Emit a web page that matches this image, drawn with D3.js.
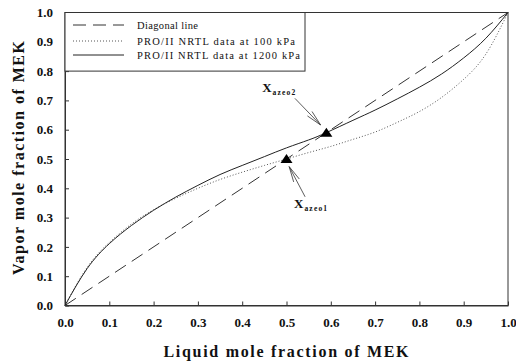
<!DOCTYPE html>
<html>
<head>
<meta charset="utf-8">
<script src="https://cdn.jsdelivr.net/npm/d3@7"></script>
<style>
  html, body { margin: 0; padding: 0; background: #fff; }
  svg { display: block; font-family: "Liberation Serif", "Times New Roman", serif; }
</style>
</head>
<body>
<svg id="chart" width="516" height="363"></svg>
<script>
// ---- data ----
const xLiquid   = [0, 0.05, 0.1, 0.15, 0.2, 0.25, 0.3, 0.35, 0.4, 0.45, 0.5, 0.55, 0.59, 0.65, 0.7, 0.75, 0.8, 0.85, 0.9, 0.95, 1.0];
const yAt1200   = [0, 0.126, 0.211, 0.273, 0.325, 0.37, 0.41, 0.447, 0.478, 0.508, 0.538, 0.565, 0.59, 0.632, 0.667, 0.705, 0.745, 0.79, 0.845, 0.912, 1.0];
const xLiquid100 = [0, 0.05, 0.1, 0.15, 0.2, 0.25, 0.3, 0.35, 0.4, 0.45, 0.5, 0.55, 0.6, 0.65, 0.7, 0.75, 0.8, 0.85, 0.9, 0.95, 1.0];
const yAt100    = [0, 0.13, 0.215, 0.278, 0.327, 0.366, 0.4, 0.43, 0.455, 0.478, 0.5, 0.522, 0.543, 0.567, 0.592, 0.625, 0.662, 0.71, 0.772, 0.858, 1.0];
const diagonal  = [0, 1];
const azeotropes = [{ name: "azeo1", x: 0.5, y: 0.5 }, { name: "azeo2", x: 0.59, y: 0.59 }];
const tickValues = [0, 0.1, 0.2, 0.3, 0.4, 0.5, 0.6, 0.7, 0.8, 0.9, 1.0];
const legendLabels = ["Diagonal line", "PRO/II NRTL data at 100 kPa", "PRO/II NRTL data at 1200 kPa"];

// annotation anchors in data units: label position, arrow start, arrow tip
const annotations = [
  { main: "X", sub: "azeo2", lx: 0.445, ly: 0.729, x0: 0.519, y0: 0.707, x1: 0.577, y1: 0.616 },
  { main: "X", sub: "azeo1", lx: 0.517, ly: 0.333, x0: 0.542, y0: 0.371, x1: 0.506, y1: 0.474 }
];

// ---- layout ----
const svg = d3.select("#chart");
const plotLeft = 65, plotRight = 508, plotTop = 12.5, plotBottom = 305.5;
const x = d3.scaleLinear().domain([0, 1]).range([plotLeft, plotRight]);
const y = d3.scaleLinear().domain([0, 1]).range([plotBottom, plotTop]);
const serif = '"Liberation Serif", "Times New Roman", serif';

// frame
svg.append("rect")
  .attr("x", plotLeft).attr("y", plotTop)
  .attr("width", plotRight - plotLeft).attr("height", plotBottom - plotTop)
  .attr("fill", "none").attr("stroke", "#333").attr("stroke-width", 1);

// axes with inside ticks
const xAxis = svg.append("g").attr("transform", `translate(0,${plotBottom})`)
  .call(d3.axisBottom(x).tickValues(tickValues).tickSizeInner(-4).tickSizeOuter(0).tickFormat(d3.format(".1f")));
const yAxis = svg.append("g").attr("transform", `translate(${plotLeft},0)`)
  .call(d3.axisLeft(y).tickValues(tickValues).tickSizeInner(-4).tickSizeOuter(0).tickFormat(d3.format(".1f")));

[xAxis, yAxis].forEach(a => {
  a.select(".domain").attr("stroke", "#333");
  a.selectAll(".tick line").attr("stroke", "#333");
  a.selectAll(".tick text")
    .attr("font-family", serif).attr("font-size", 13).attr("font-weight", "bold")
    .attr("fill", "#111");
});
xAxis.selectAll(".tick text").attr("y", 12).attr("dy", "0.71em");
yAxis.selectAll(".tick text").attr("x", -12);

// curves
const line = d3.line().x(d => x(d[0])).y(d => y(d[1]));
const smooth = d3.line().x(d => x(d[0])).y(d => y(d[1])).curve(d3.curveNatural);

svg.append("path")
  .datum(diagonal.map(v => [v, v]))
  .attr("d", line)
  .attr("fill", "none").attr("stroke", "#333").attr("stroke-width", 1)
  .attr("stroke-dasharray", "13,7");

svg.append("path")
  .datum(xLiquid100.map((v, i) => [v, yAt100[i]]))
  .attr("d", smooth)
  .attr("fill", "none").attr("stroke", "#555").attr("stroke-width", 1)
  .attr("stroke-dasharray", "1,2");

svg.append("path")
  .datum(xLiquid.map((v, i) => [v, yAt1200[i]]))
  .attr("d", smooth)
  .attr("fill", "none").attr("stroke", "#222").attr("stroke-width", 1);

// azeotrope markers
svg.selectAll(".azeo")
  .data(azeotropes).enter().append("path")
  .attr("class", "azeo")
  .attr("d", d => {
    const cx = x(d.x), cy = y(d.y);
    return `M${cx - 6},${cy + 4}L${cx + 6},${cy + 4}L${cx},${cy - 5}Z`;
  })
  .attr("fill", "#000");

// annotation arrows and labels
annotations.forEach(a => {
  const sx = x(a.x0), sy = y(a.y0), tx = x(a.x1), ty = y(a.y1);
  const ang = Math.atan2(sy - ty, sx - tx);
  const g = svg.append("g").attr("stroke", "#333").attr("stroke-width", 0.8).attr("fill", "none");
  g.append("line").attr("x1", sx).attr("y1", sy).attr("x2", tx).attr("y2", ty);
  [-0.2, 0.2].forEach(da => {
    g.append("line")
      .attr("x1", tx).attr("y1", ty)
      .attr("x2", tx + 16 * Math.cos(ang + da))
      .attr("y2", ty + 16 * Math.sin(ang + da));
  });
  const t = svg.append("text")
    .attr("x", x(a.lx)).attr("y", y(a.ly))
    .attr("font-family", serif).attr("font-weight", "bold").attr("fill", "#111");
  t.append("tspan").attr("font-size", 13).text(a.main);
  t.append("tspan").attr("font-size", 7.5).attr("dy", 3).attr("dx", 1).attr("letter-spacing", 1.2).text(a.sub);
});

// legend
const legend = svg.append("g");
legend.append("rect")
  .attr("x", plotLeft).attr("y", plotTop)
  .attr("width", 305 - plotLeft).attr("height", y(0.8) - plotTop)
  .attr("fill", "#fff").attr("stroke", "#333").attr("stroke-width", 1);

const legendStyles = [
  { dash: "13,7", color: "#333" },
  { dash: "1,2", color: "#555" },
  { dash: null, color: "#222" }
];
const legendRows = [25, 41, 55];
legendLabels.forEach((label, i) => {
  legend.append("line")
    .attr("x1", 73).attr("x2", 124)
    .attr("y1", legendRows[i]).attr("y2", legendRows[i])
    .attr("stroke", legendStyles[i].color).attr("stroke-width", 1)
    .attr("stroke-dasharray", legendStyles[i].dash);
  legend.append("text")
    .attr("x", 137).attr("y", legendRows[i]).attr("dy", "0.35em")
    .attr("font-family", serif).attr("font-size", 10.5).attr("fill", "#111")
    .attr("textLength", [61, 158, 163][i]).attr("lengthAdjust", "spacing")
    .text(label);
});

// axis titles
svg.append("text")
  .attr("x", 286).attr("y", 357)
  .attr("text-anchor", "middle")
  .attr("font-family", serif).attr("font-size", 16).attr("font-weight", "bold").attr("fill", "#111")
  .attr("textLength", 245).attr("lengthAdjust", "spacing")
  .text("Liquid mole fraction of MEK");

svg.append("text")
  .attr("transform", "translate(24,158) rotate(-90)")
  .attr("text-anchor", "middle")
  .attr("font-family", serif).attr("font-size", 16).attr("font-weight", "bold").attr("fill", "#111")
  .attr("textLength", 234).attr("lengthAdjust", "spacing")
  .text("Vapor mole fraction of MEK");
</script>
</body>
</html>
